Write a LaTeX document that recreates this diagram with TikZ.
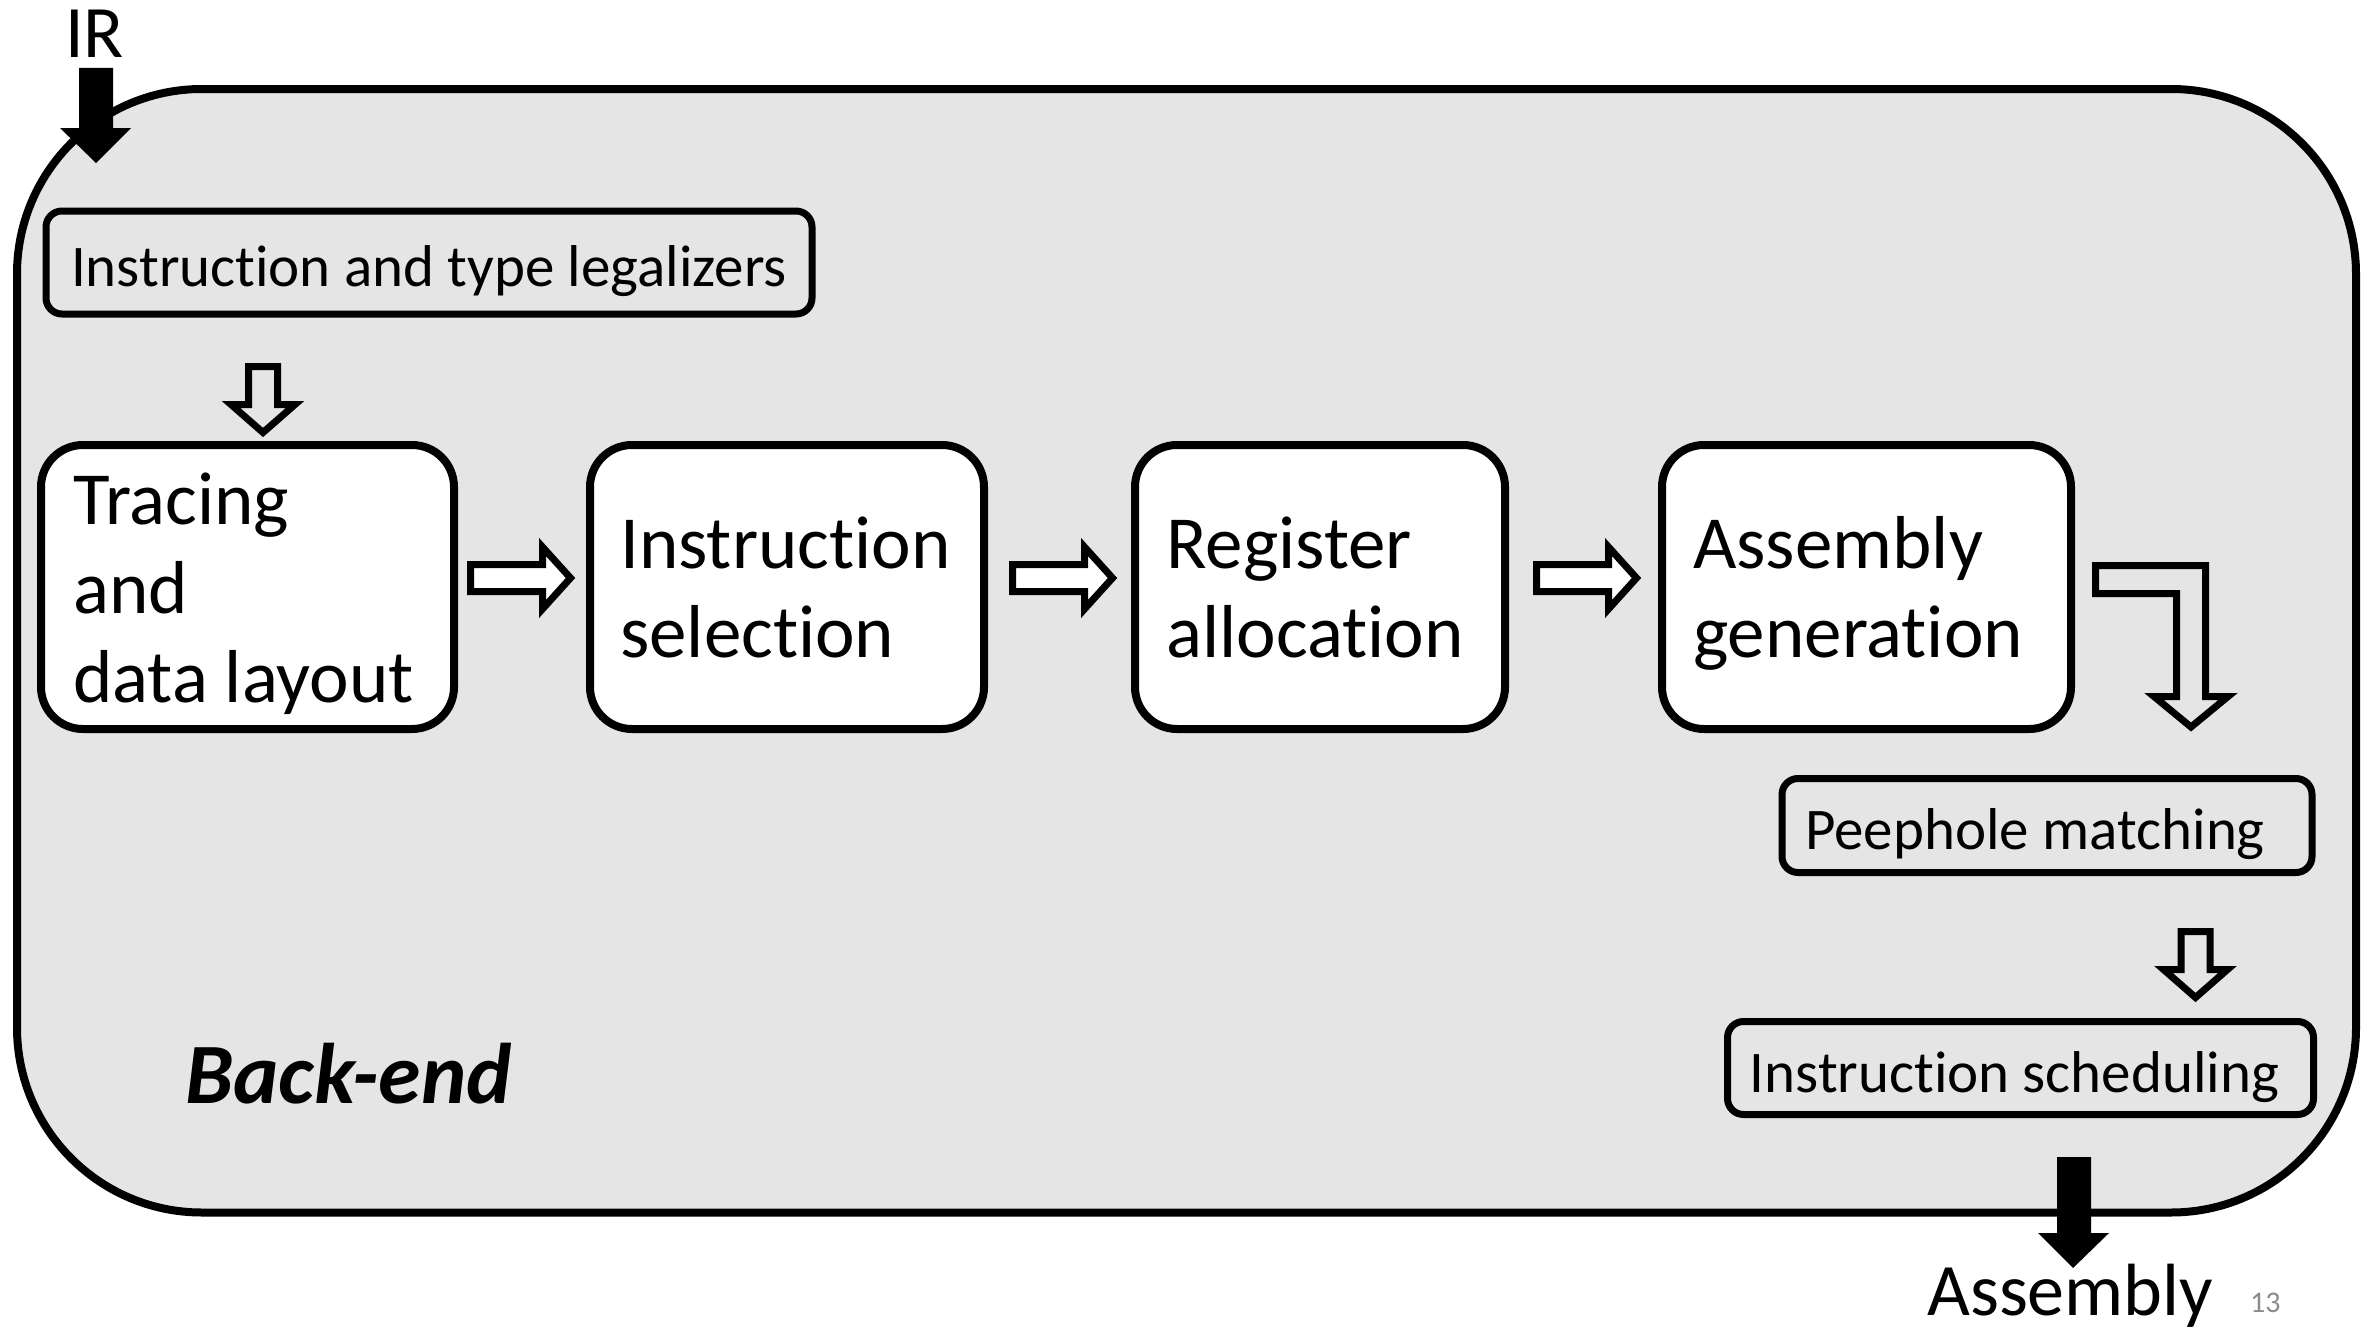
\documentclass[tikz,border=0pt]{standalone}
\usepackage{fontspec}
\setmainfont{Carlito}[Ligatures={NoCommon}]
\definecolor{bggray}{HTML}{E5E5E5}
\definecolor{numgray}{HTML}{8C8C8C}
\newcommand\topfix{\rule{0pt}{72pt}}
\newcommand\botfix{\rule[-20pt]{0pt}{20pt}}
\begin{document}
\begin{tikzpicture}[x=1pt,y=-1pt,
  outerbox/.style={draw, line width=8pt, fill=bggray, rounded corners=185pt, inner sep=0pt},
  bigbox/.style={draw, line width=8pt, fill=white, rounded corners=42pt, inner sep=0pt, minimum height=284pt},
  boxtext/.style={anchor=west, align=flush left, inner sep=0pt, font=\fontsize{75}{89}\selectfont},
  smallbox/.style={draw, line width=7pt, fill=bggray, rounded corners=16pt, inner sep=0pt,
    font=\fontsize{59}{71}\selectfont, text height=63pt, text depth=15pt},
  hollow/.style={draw, line width=7pt, line join=miter},
  rblock/.pic={\draw[hollow, fill=white] (0,-13.5) -- (72,-13.5) -- (72,-31) -- (100,0) -- (72,31) -- (72,13.5) -- (0,13.5) -- cycle;},
  dblock/.pic={\draw[hollow, fill=bggray] (-14.5,0) -- (-14.5,38) -- (-32,38) -- (0,66) -- (32,38) -- (14.5,38) -- (14.5,0) -- cycle;},
]
\useasboundingbox (0,0) rectangle (2361,1330);

% outer back-end container
\node[outerbox, minimum width=2339pt, minimum height=1123.5pt] (backendbox) at (1186.5,650.75) {};

% texts
\node[anchor=base west, inner sep=0pt, font=\fontsize{74}{88}\selectfont] (ir) at (65,58) {IR};
\node[anchor=base west, inner sep=0pt, font=\fontsize{86}{102}\selectfont\bfseries\itshape] (belabel) at (185,1103) {Back-end};
\node[anchor=base west, inner sep=0pt, font=\fontsize{74}{88}\selectfont] (asm) at (1927,1315) {Assembly};
\node[anchor=base west, inner sep=0pt, font=\fontsize{30}{36}\selectfont, text=numgray] (pagenum) at (2250,1312) {13};

% black input / output arrows
\fill (79,68) -- (113,68) -- (113,128) -- (131,128) -- (96,163) -- (60,128) -- (79,128) -- cycle;
\fill (2057,1157) -- (2091,1157) -- (2091,1233) -- (2109,1233) -- (2073,1268) -- (2038,1233) -- (2057,1233) -- cycle;

% small boxes
\node[smallbox, minimum width=766pt, minimum height=103pt] (legal) at (429,262.5) {Instruction and type legalizers};
\node[smallbox, minimum width=530pt, minimum height=94pt] (peep) at (2047,825.5) {Peephole matching\kern24pt};
\node[smallbox, minimum width=586pt, minimum height=93pt] (sched) at (2020.5,1068) {Instruction scheduling\kern12pt};

% main stage boxes
\node[bigbox, minimum width=413pt] (trace) at (247.5,587) {};
\node[bigbox, minimum width=394pt] (isel) at (787,587) {};
\node[bigbox, minimum width=370pt] (ralloc) at (1320,587) {};
\node[bigbox, minimum width=409pt] (agen) at (1866.5,587) {};
\node[boxtext] (tracetext) at ([xshift=36pt]trace.west) {\topfix Tracing\\and\\data layout\botfix};
\node[boxtext] (iseltext) at ([xshift=34pt]isel.west) {\topfix Instruction\\selection\botfix};
\node[boxtext] (ralloctext) at ([xshift=35pt]ralloc.west) {\topfix Register\\allocation\botfix};
\node[boxtext] (agentext) at ([xshift=35pt]agen.west) {\topfix Assembly\\generation\botfix};

% hollow arrows
\pic at (263,366.5) {dblock};
\pic at (470.5,578) {rblock};
\pic at (1012.5,578) {rblock};
\pic at (1536.5,578) {rblock};
\pic at (2195.5,931.5) {dblock};
\draw[hollow, fill=bggray] (2095.5,565.5) -- (2205.5,565.5) -- (2205.5,696.5) -- (2228,696.5)
  -- (2191,727) -- (2154,696.5) -- (2176.5,696.5) -- (2176.5,593.5) -- (2095.5,593.5) -- cycle;
\end{tikzpicture}
\end{document}
